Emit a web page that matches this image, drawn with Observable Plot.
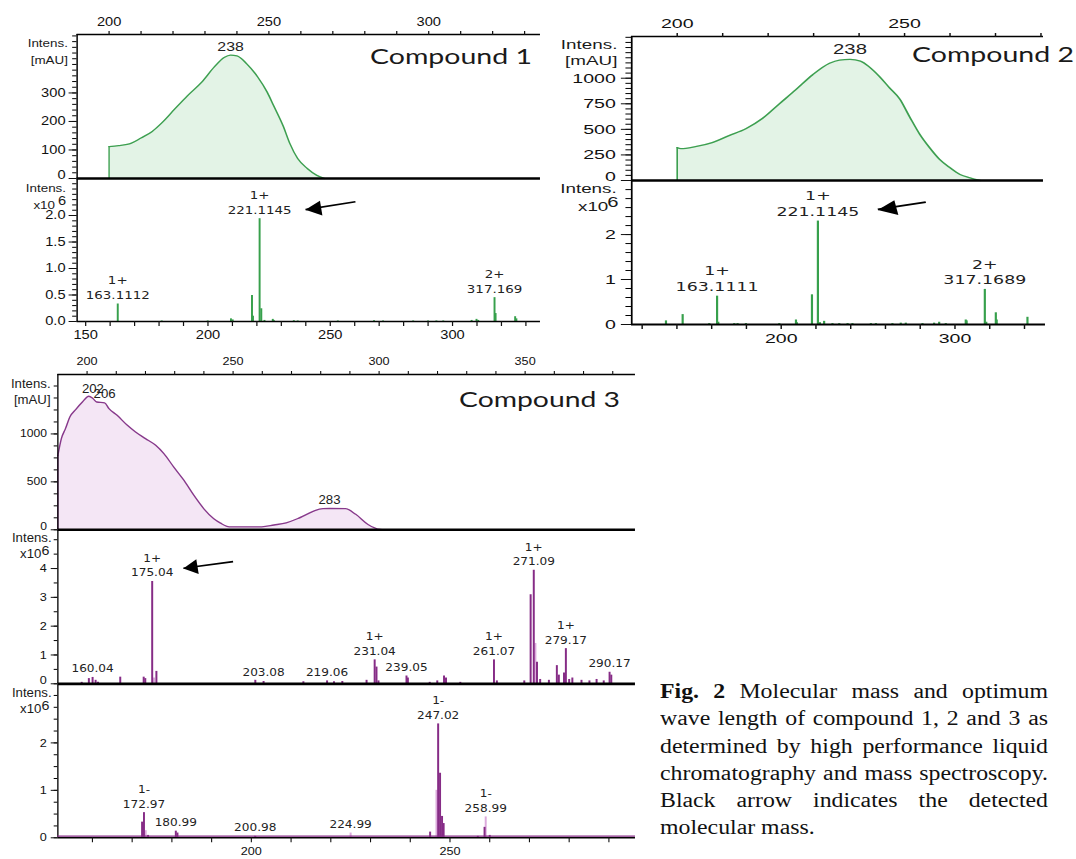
<!DOCTYPE html>
<html><head><meta charset="utf-8">
<script src="https://cdn.jsdelivr.net/npm/d3@7"></script>
<script src="https://cdn.jsdelivr.net/npm/@observablehq/plot@0.6"></script>
<style>
body{margin:0;background:#fff;}
#fig{position:relative;width:1076px;height:859px;overflow:hidden;background:#fff;}
.cmp{position:absolute;font-family:Lato,"Open Sans",sans-serif;font-size:21.5px;color:#1a1a1a;white-space:nowrap;transform-origin:0 0;line-height:1;}
#cap{position:absolute;left:660px;top:678px;width:326px;transform-origin:0 0;font-family:"Liberation Serif","Times New Roman",serif;font-size:20px;line-height:27.26px;color:#111;}
#cap div{text-align:justify;text-align-last:justify;white-space:nowrap;}
#cap div.last{text-align-last:left;}
</style></head><body><div id="fig"></div>
<script>
// ================= DATA =================
// Compound 1 — UV spectrum (wavelength nm, intensity mAU)
const uv1Wl  = [200, 203, 207, 210, 213.5, 216.5, 220.5, 224.5, 229, 233, 236, 238, 240, 243, 246.5, 249.5, 251.5, 254.5, 256.5, 259, 262, 265, 267.5];
const uv1Int = [112, 115, 124, 142, 165, 195, 243, 290, 338, 392, 424, 433, 430, 403, 356, 302, 255, 183, 124, 70, 35, 11, 0];
const uv1PeakLabels = ["238"];
// Compound 1 — mass spectrum (m/z, intensity x10^6)
const ms1Mz  = [163.1112, 181.1, 199.9, 209.4, 210.1, 218.0, 218.4, 221.1145, 221.8, 223.1, 226.5, 226.9, 235.1, 236.7, 253.1, 267.9, 271.6, 283.9, 290.0, 293.4, 296.2, 307.8, 309.8, 310.5, 317.169, 317.6, 325.6, 326.1];
const ms1Int = [0.33, 0.01, 0.01, 0.05, 0.03, 0.49, 0.10, 1.94, 0.24, 0.02, 0.04, 0.02, 0.015, 0.01, 0.01, 0.015, 0.01, 0.01, 0.01, 0.01, 0.01, 0.02, 0.04, 0.02, 0.45, 0.15, 0.09, 0.05];
const ms1LabelCharge = ["1+", "1+", "2+"];
const ms1LabelMass   = ["163.1112", "221.1145", "317.169"];
const ms1Arrow = [260.3, 2.26, 239.9, 2.11];

// Compound 2 — UV spectrum
const uv2Wl  = [200, 200.8, 204, 207.7, 211.4, 215.1, 218.8, 222.4, 226.1, 229.8, 233.5, 235.7, 238, 240.3, 242.3, 244.5, 246.7, 248.9, 251.1, 253.3, 255.5, 257.7, 260, 262.2, 264.4, 266.6];
const uv2Int = [321, 311, 331, 371, 439, 506, 608, 747, 888, 1034, 1146, 1178, 1185, 1168, 1109, 1016, 906, 799, 624, 455, 321, 206, 124, 59, 26, 0];
const uv2PeakLabels = ["238"];
// Compound 2 — mass spectrum
const ms2Mz  = [133.7, 143.3, 158.6, 163.1111, 163.8, 173.0, 174.9, 179.7, 198.9, 208.5, 209.0, 217.7, 221.1145, 222.3, 224.7, 229.5, 233.4, 238.2, 241.0, 251.6, 254.5, 264.0, 268.8, 271.7, 281.3, 288.0, 290.9, 294.7, 306.2, 306.7, 317.1689, 318.0, 323.5, 324.0, 341.7];
const ms2Int = [0.08, 0.22, 0.02, 0.63, 0.05, 0.02, 0.02, 0.02, 0.02, 0.10, 0.04, 0.66, 2.30, 0.04, 0.07, 0.02, 0.02, 0.02, 0.02, 0.02, 0.02, 0.02, 0.03, 0.03, 0.02, 0.03, 0.05, 0.02, 0.10, 0.08, 0.78, 0.05, 0.26, 0.10, 0.16];
const ms2LabelCharge = ["1+", "1+", "2+"];
const ms2LabelMass   = ["163.1111", "221.1145", "317.1689"];
const ms2Arrow = [283.2, 2.72, 255.6, 2.56];

// Compound 3 — UV spectrum
const uv3Wl  = [190, 191.2, 192.6, 194.1, 196.1, 198.4, 200.6, 202, 203.3, 206, 207.5, 210.3, 213.8, 216.6, 220, 223.5, 226.3, 229.7, 233.2, 236.6, 240, 243.4, 245.7, 248.7, 259.8, 264, 268.2, 272, 275.2, 278, 280.8, 283, 288.5, 292, 296.2, 300.4, 301.8];
const uv3Int = [776, 951, 1055, 1177, 1254, 1333, 1393, 1370, 1333, 1325, 1264, 1194, 1090, 1020, 951, 881, 794, 654, 515, 358, 219, 115, 69, 31, 31, 50, 73, 115, 161, 200, 220, 222, 220, 161, 56, 3, 0];
const uv3PeakLabels = ["202", "206", "283"];
// Compound 3 — positive mode mass spectrum
const ms3aMz  = [157.3, 159.1, 160.04, 160.8, 161.4, 167.0, 172.9, 173.3, 175.04, 176.1, 201.0, 203.08, 213.1, 219.06, 220.8, 222.9, 229.0, 231.04, 231.5, 232.0, 239.05, 239.4, 244.9, 246.8, 248.5, 249.0, 252.6, 261.07, 261.8, 268.7, 270.3, 271.09, 271.9, 272.7, 274.9, 276.9, 277.4, 278.7, 279.17, 280.0, 280.8, 283.1, 285.1, 286.9, 288.7, 290.17, 290.6];
const ms3aInt = [0.05, 0.18, 0.22, 0.12, 0.05, 0.23, 0.23, 0.18, 3.55, 0.43, 0.12, 0.08, 0.07, 0.10, 0.07, 0.08, 0.12, 0.83, 0.58, 0.10, 0.27, 0.20, 0.05, 0.10, 0.27, 0.20, 0.05, 0.83, 0.10, 0.10, 3.09, 3.94, 0.75, 0.15, 0.12, 0.63, 0.30, 0.37, 1.22, 0.15, 0.20, 0.12, 0.10, 0.15, 0.10, 0.40, 0.30];
const ms3aMinorMz  = [175.5, 271.5];
const ms3aMinorInt = [0.20, 1.40];
const ms3aLabelCharge = ["", "1+", "", "", "1+", "", "1+", "1+", "1+", ""];
const ms3aLabelMass   = ["160.04", "175.04", "203.08", "219.06", "231.04", "239.05", "261.07", "271.09", "279.17", "290.17"];
const ms3aArrow = [195.4, 4.24, 182.9, 4.01];
// Compound 3 — negative mode mass spectrum
const ms3bMz  = [172.5, 172.97, 174.0, 180.99, 181.4, 200.98, 245.0, 247.02, 247.5, 248.0, 248.4, 257.0, 258.7, 260.0];
const ms3bInt = [0.33, 0.53, 0.05, 0.14, 0.10, 0.03, 0.12, 2.40, 1.36, 0.45, 0.30, 0.03, 0.22, 0.05];
const ms3bMinorMz  = [173.4, 224.99, 246.6, 258.99];
const ms3bMinorInt = [0.15, 0.10, 1.00, 0.44];
const ms3bLabelCharge = ["1-", "", "", "", "1-", "1-"];
const ms3bLabelMass   = ["172.97", "180.99", "200.98", "224.99", "247.02", "258.99"];

// Axis tick labels
const uv1XLabels = [200, 250, 300], uv1YLabels = [0, 100, 200, 300];
const ms1XLabels = [150, 200, 250, 300], ms1YLabels = [0, 0.5, 1.0, 1.5, 2.0];
const uv2XLabels = [200, 250], uv2YLabels = [0, 250, 500, 750, 1000];
const ms2XLabels = [200, 300], ms2YLabels = [0, 1, 2];
const uv3XLabels = [200, 250, 300, 350], uv3YLabels = [0, 500, 1000];
const ms3aYLabels = [0, 1, 2, 3, 4];
const ms3bXLabels = [200, 250], ms3bYLabels = [0, 1, 2];

const compoundNames = ["Compound 1", "Compound 2", "Compound 3"];
const captionLines = ["Molecular mass and optimum", "wave length of compound 1, 2 and 3 as", "determined by high performance liquid", "chromatography and mass spectroscopy.", "Black arrow indicates the detected", "molecular mass."];

// ================= HELPERS =================
const fig = document.getElementById("fig");
const GREEN = {line: "#3d9f50", fill: "#e3f3e6", bar: "#37a04c"};
const PURPLE = {line: "#87398b", fill: "#f4e6f5", bar: "#862c86", light: "#dcaadc"};
const zip = (xs, ys, kx, ky) => xs.map((v, i) => ({[kx]: v, [ky]: ys[i]}));

function lookup(xs, ys, x) { let best = 0; xs.forEach((v, i) => { if (Math.abs(v - x) < 1e-6 && ys[i] > best) best = ys[i]; }); return best; }

function yLabels(g, items) {
  return items.map(it => Plot.text([it.t], {frameAnchor: "top-left", text: d => d,
    dx: (it.r - g.fl) / g.s, dy: it.cy - g.ft, textAnchor: "end", lineAnchor: "middle",
    fontSize: it.fs, fill: "#1a1a1a", fontFamily: "'Liberation Sans', Arial, sans-serif"}));
}
function intensUV(g, r, cy1, cy2, fs) { return yLabels(g, [{t: "Intens.", r, cy: cy1, fs}, {t: "[mAU]", r, cy: cy2, fs}]); }
function intensMS(g, r1, cy1, r2, cy2, r3, cy3, fs) {
  return yLabels(g, [{t: "Intens.", r: r1, cy: cy1, fs}, {t: "x10", r: r2, cy: cy2, fs}, {t: "6", r: r3, cy: cy3, fs: fs + 1}]);
}
function arrowMarks(a, rot) {
  return [
    Plot.link([a], {x1: d => d[0], y1: d => d[1], x2: d => d[2], y2: d => d[3], stroke: "#000", strokeWidth: 1.7}),
    Plot.dot([a], {x: d => d[2], y: d => d[3], symbol: "triangle", r: 5.6, fill: "#000", stroke: "none", rotate: rot, dx: 8.5, dy: -1})
  ];
}
// zeroDy: lift the "0" tick label a little (it sits just above the panel below)
function yAxes(major, minorStep, top, fs, fmt, tickSize, tickPadding, zeroDy = 0) {
  const marks = [
    Plot.axisY(d3.range(0, top + 1e-9, minorStep), {tickSize: tickSize * 0.55, tickFormat: () => "", label: null, color: "#000"}),
    Plot.axisY(major, {tickSize, tickPadding, tickFormat: d => (zeroDy && d === 0) ? "" : fmt(d), label: null, fontSize: fs, color: "#111"})
  ];
  if (zeroDy) marks.push(Plot.text([0], {y: d => d, text: d => fmt(d), frameAnchor: "left", textAnchor: "end",
    dx: -(tickSize + tickPadding), dy: zeroDy, fontSize: fs, fill: "#111"}));
  return marks;
}
function xAxes(anchor, ticks, labels, fs, tickSize, tickPadding) {
  return Plot.axisX(ticks, {anchor, tickSize, tickPadding, label: null, fontSize: fs, color: "#111",
    tickFormat: d => labels.includes(d) ? String(d) : ""});
}
function panel(g, marks, noX) {
  const svg = Plot.plot({
    width: g.width / g.s, height: g.height,
    marginLeft: (g.fl - g.left) / g.s, marginRight: (g.left + g.width - g.fr) / g.s,
    marginTop: g.ft - g.top, marginBottom: g.top + g.height - g.fb,
    x: Object.assign({domain: g.x, label: null}, noX ? {axis: null} : {}),
    y: {domain: g.y, label: null},
    style: {background: "none", overflow: "visible", fontFamily: "'Liberation Sans', Arial, sans-serif", fontSize: "12px", color: "#111"},
    marks
  });
  svg.style.position = "absolute"; svg.style.left = g.left + "px"; svg.style.top = g.top + "px";
  svg.style.transform = `scaleX(${g.s})`; svg.style.transformOrigin = "0 0"; svg.style.maxWidth = "none";
  fig.appendChild(svg);
}
function uvMarks(g, wl, val, col, labels, ldy, lfs) {
  const data = zip(wl, val, "w", "v");
  const lab = labels.map(t => ({w: +t, v: lookup(wl, val, +t), t}));
  return [
    Plot.areaY(data, {x: "w", y: "v", fill: col.fill, curve: "monotone-x"}),
    Plot.lineY(data, {x: "w", y: "v", stroke: col.line, strokeWidth: 1.3, curve: "monotone-x"}),
    Plot.ruleX(data.slice(0, 1), {x: "w", y1: 0, y2: "v", stroke: col.line, strokeWidth: 1.1}),
    Plot.text(lab, {x: "w", y: "v", text: "t", lineAnchor: "bottom", dy: ldy, fontSize: lfs, fill: "#222"}),
    Plot.ruleX([g.x[0]], {stroke: "#000", strokeWidth: 1.2}),
    Plot.ruleY([g.y[1]], {stroke: "#000", strokeWidth: 1.3}),
    Plot.ruleY([0], {stroke: "#000", strokeWidth: 2.6})
  ];
}
function msMarks(g, mz, it, color, minorMz, minorIt, minorColor, charges, masses, fs, bw, baseW, baseColor) {
  const allMz = mz.concat(minorMz || []), allIt = it.concat(minorIt || []);
  const lab = masses.map((m, i) => ({mz: +m, i: lookup(allMz, allIt, +m), t: (charges[i] ? charges[i] + "\n" : "") + m}));
  const ms = [];
  if (minorMz) ms.push(Plot.ruleX(zip(minorMz, minorIt, "mz", "i"), {x: "mz", y1: 0, y2: "i", stroke: minorColor, strokeWidth: bw}));
  ms.push(Plot.ruleX(zip(mz, it, "mz", "i"), {x: "mz", y1: 0, y2: "i", stroke: color, strokeWidth: bw}));
  ms.push(Plot.text(lab, {x: "mz", y: "i", text: "t", lineAnchor: "bottom", dy: -5, lineHeight: 1.32, fontSize: fs, fontFamily: "'DejaVu Sans', Verdana, sans-serif", fill: "#222"}));
  ms.push(Plot.ruleX([g.x[0]], {stroke: "#000", strokeWidth: 1.2}));
  if (baseColor) ms.push(Plot.ruleY([0], {stroke: baseColor, strokeWidth: 1.2, dy: -1.6}));
  ms.push(Plot.ruleY([0], {stroke: "#000", strokeWidth: baseW}));
  return ms;
}

// ================= COMPOUND 1 =================
const s1 = 1.22;
const g1u = {left: 0, top: 0, width: 545, height: 181, s: s1, fl: 76.5, fr: 540, ft: 34, fb: 178, x: [190, 335], y: [0, 505]};
panel(g1u, [
  ...uvMarks(g1u, uv1Wl, uv1Int, GREEN, uv1PeakLabels, -4, 13),
  xAxes("top", d3.range(200, 336, 10), uv1XLabels, 12, 4, 4),
  ...yAxes(uv1YLabels, 20, 505, 12, d => String(d), 6.5, 3, -3),
  ...intensUV(g1u, 67.3, 43.3, 60, 11)
]);
const g1m = {left: 0, top: 178, width: 545, height: 172, s: s1, fl: 76.5, fr: 540, ft: 179, fb: 321, x: [146.5, 336], y: [0, 2.68]};
panel(g1m, [
  ...msMarks(g1m, ms1Mz, ms1Int, GREEN.bar, null, null, null, ms1LabelCharge, ms1LabelMass, 11, 1.6, 1.4),
  ...arrowMarks(ms1Arrow, -97.6),
  xAxes("bottom", d3.range(150, 336, 10), ms1XLabels, 12, 5, 4),
  ...yAxes(ms1YLabels, 0.1, 2.68, 12, d3.format(".1f"), 6.5, 3),
  ...intensMS(g1m, 65.4, 187.5, 54.4, 204.5, 65.4, 201, 11)
]);

// ================= COMPOUND 2 =================
const s2 = 1.45;
const g2u = {left: 545, top: 0, width: 531, height: 182, s: s2, fl: 631, fr: 1043, ft: 36, fb: 180, x: [190, 280.6], y: [0, 1408]};
panel(g2u, [
  ...uvMarks(g2u, uv2Wl, uv2Int, GREEN, uv2PeakLabels, -5, 14),
  xAxes("top", d3.range(200, 281, 10), uv2XLabels, 13.5, 4, 4),
  ...yAxes(uv2YLabels, 50, 1408, 13.5, d => String(d), 7, 4, -3.5),
  ...intensUV(g2u, 616.7, 44, 60.7, 13)
]);
const g2m = {left: 545, top: 180, width: 531, height: 172, s: s2, fl: 631, fr: 1045, ft: 181, fb: 324, x: [114, 352.2], y: [0, 3.18]};
panel(g2m, [
  ...msMarks(g2m, ms2Mz, ms2Int, GREEN.bar, null, null, null, ms2LabelCharge, ms2LabelMass, 12, 1.5, 1.8),
  ...arrowMarks(ms2Arrow, -100.6),
  xAxes("bottom", d3.range(120, 351, 20), ms2XLabels, 13.5, 5, 4),
  ...yAxes(ms2YLabels, 0.2, 3.18, 13.5, d => String(d), 7, 4),
  ...intensMS(g2m, 616, 188, 607.6, 206, 617.8, 202.5, 13)
]);

// ================= COMPOUND 3 =================
const s3 = 1.1;
const g3u = {left: 0, top: 345, width: 645, height: 186, s: s3, fl: 57.3, fr: 635, ft: 374, fb: 529.3, x: [190, 387.8], y: [0, 1620]};
panel(g3u, [
  ...uvMarks(g3u, uv3Wl, uv3Int, PURPLE, uv3PeakLabels, -5, 12),
  xAxes("top", d3.range(200, 388, 10), uv3XLabels, 11.5, 4, 5),
  ...yAxes(uv3YLabels, 125, 1620, 11, d => String(d), 6, 4, -3),
  ...intensUV(g3u, 50, 383.3, 399.3, 12)
]);
const g3a = {left: 0, top: 528, width: 645, height: 157, s: s3, fl: 57.3, fr: 635, ft: 530, fb: 683.3, x: [151.3, 296.7], y: [0, 5.32]};
panel(g3a, [
  ...msMarks(g3a, ms3aMz, ms3aInt, PURPLE.bar, ms3aMinorMz, ms3aMinorInt, PURPLE.light, ms3aLabelCharge, ms3aLabelMass, 11, 1.8, 2.8),
  ...arrowMarks(ms3aArrow, -98.4),
  ...yAxes(ms3aYLabels, 0.5, 5.32, 11.5, d => String(d), 6, 4, -3),
  ...intensMS(g3a, 51, 538, 40.8, 554, 49, 550.5, 12)
], true);
const g3b = {left: 0, top: 683, width: 645, height: 176, s: s3, fl: 57.3, fr: 635, ft: 684.5, fb: 837.3, x: [151.3, 296.7], y: [0, 3.22]};
panel(g3b, [
  ...msMarks(g3b, ms3bMz, ms3bInt, PURPLE.bar, ms3bMinorMz, ms3bMinorInt, PURPLE.light, ms3bLabelCharge, ms3bLabelMass, 11, 1.8, 1.5, PURPLE.bar),
  xAxes("bottom", d3.range(160, 297, 10), ms3bXLabels, 11.5, 5, 4),
  ...yAxes(ms3bYLabels, 0.25, 3.22, 11.5, d => String(d), 6, 4),
  ...intensMS(g3b, 51, 693, 40.8, 709, 49, 705.5, 12)
]);

// ================= TITLES & CAPTION =================
function addCompound(text, left, cy, targetW) {
  const sp = document.createElement("span");
  sp.className = "cmp"; sp.textContent = text;
  sp.style.left = left + "px"; sp.style.top = (cy - 11) + "px";
  fig.appendChild(sp);
  const w = sp.getBoundingClientRect().width;
  sp.style.transform = `scaleX(${targetW / w})`;
}
addCompound(compoundNames[0], 370, 57, 162);
addCompound(compoundNames[1], 912, 54.5, 162);
addCompound(compoundNames[2], 459, 400, 161);

const cap = document.createElement("div");
cap.id = "cap";
captionLines.forEach((t, i) => {
  const d = document.createElement("div");
  if (i === 0) { const b = document.createElement("b"); b.textContent = "Fig. 2"; d.appendChild(b); d.appendChild(document.createTextNode(" " + t)); }
  else d.textContent = t;
  if (i === captionLines.length - 1) d.className = "last";
  cap.appendChild(d);
});
fig.appendChild(cap);
cap.style.transform = `scaleX(${388 / 326})`;
</script></body></html>
